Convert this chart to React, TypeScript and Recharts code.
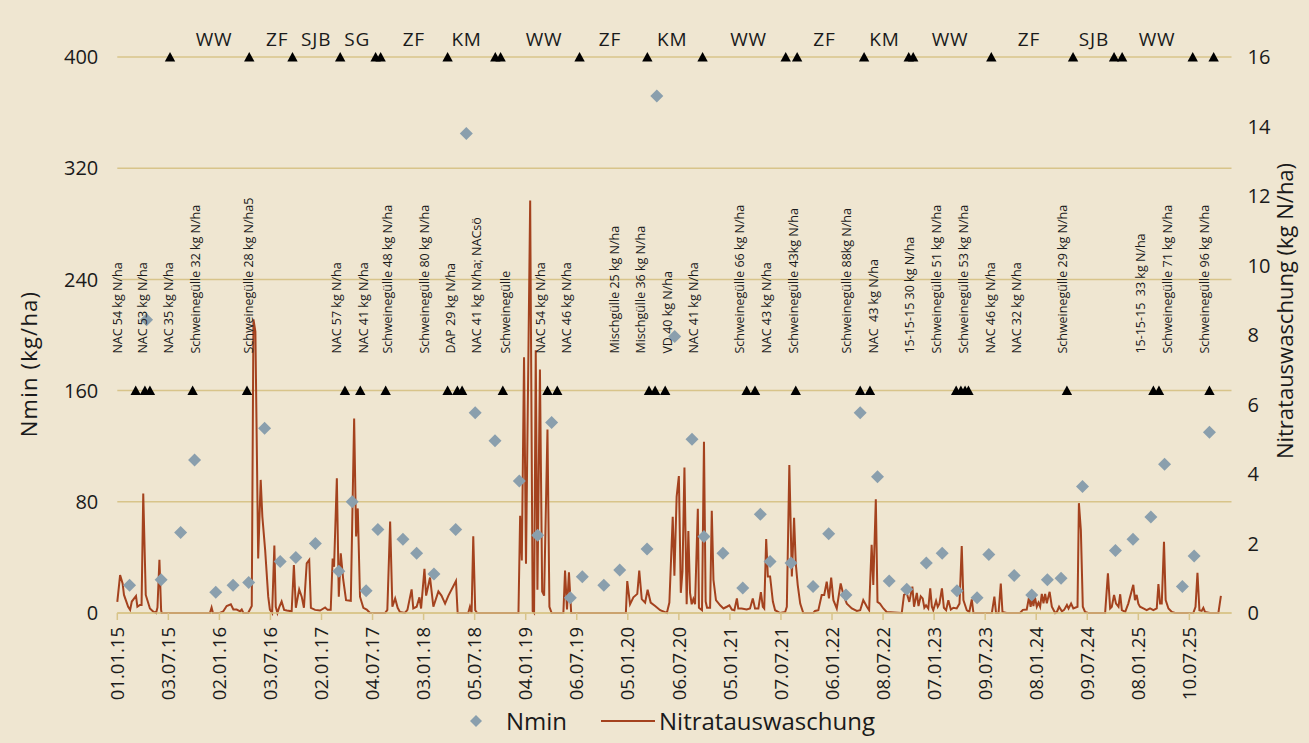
import React from 'react';
import { ComposedChart, Line, Scatter, XAxis, YAxis, CartesianGrid, Legend } from 'recharts';

// ---------- DATA (x = days since 01.01.2015) ----------
const tickLabels = [
  '01.01.15', '03.07.15', '02.01.16', '03.07.16', '02.01.17', '04.07.17', '03.01.18', '05.07.18',
  '04.01.19', '06.07.19', '05.01.20', '06.07.20', '05.01.21', '07.07.21', '06.01.22', '08.07.22',
  '07.01.23', '09.07.23', '08.01.24', '09.07.24', '08.01.25', '10.07.25',
];
const leftTicks = [0, 80, 160, 240, 320, 400];
const rightTicks = [0, 2, 4, 6, 8, 10, 12, 14, 16];

const nminDays = [
  44, 105, 157, 227, 277, 353, 415, 471, 528, 584, 640, 710, 794, 842, 892, 934, 1024, 1073, 1135, 1213,
  1251, 1283, 1354, 1441, 1507, 1557, 1624, 1667, 1744, 1801, 1899, 1934, 1998, 2060, 2103, 2171, 2242,
  2305, 2340, 2415, 2494, 2550, 2612, 2663, 2725, 2767, 2830, 2900, 2957, 3010, 3082, 3124, 3215, 3278,
  3334, 3383, 3460, 3578, 3641, 3705, 3754, 3818, 3860, 3915,
];
const nminValues = [
  20, 211, 24, 58, 110, 15, 20, 22, 133, 37, 40, 50, 30, 80, 16, 60, 53, 43, 28, 60,
  345, 144, 124, 95, 56, 137, 11, 26, 20, 31, 46, 372, 199, 125, 55, 43, 18,
  71, 37, 36, 19, 57, 13, 144, 98, 23, 17, 36, 43, 16, 11, 42, 27, 13,
  24, 25, 91, 45, 53, 69, 107, 19, 41, 130,
];

const leachDays = [
  0, 10, 19, 24, 39, 46, 52, 67, 72, 81, 87, 93, 102, 117, 129, 139, 144, 151, 157, 159,
  332, 338, 343, 368, 380, 392, 407, 416, 428, 440, 446, 452, 469, 482, 488, 495, 505, 514, 520, 530,
  541, 547, 555, 563, 568, 574, 581, 589, 598, 608, 625, 633, 640, 652, 661, 669, 679, 688, 694, 709,
  727, 745, 754, 765, 772, 777, 787, 794, 801, 810, 820, 837, 849, 856, 862, 870, 882, 894, 906, 960,
  968, 978, 986, 996, 1005, 1013, 1031, 1040, 1055, 1061, 1073, 1083, 1089, 1101, 1107, 1121, 1133, 1151, 1162, 1175,
  1187, 1214, 1220, 1258, 1264, 1270, 1276, 1283, 1290, 1438, 1444, 1450, 1458, 1465, 1480, 1489, 1494, 1500, 1506, 1515,
  1523, 1530, 1542, 1549, 1557, 1599, 1605, 1612, 1619, 1627, 1823, 1828, 1838, 1850, 1864, 1871, 1880, 1892, 1901, 1912,
  1928, 1946, 1970, 1979, 1991, 1997, 2005, 2013, 2020, 2026, 2033, 2041, 2047, 2053, 2059, 2065, 2071, 2081, 2085, 2096,
  2103, 2109, 2114, 2125, 2131, 2137, 2146, 2161, 2173, 2185, 2194, 2203, 2212, 2221, 2226, 2238, 2256, 2268, 2278, 2286,
  2298, 2307, 2314, 2319, 2326, 2332, 2340, 2350, 2358, 2376, 2394, 2400, 2409, 2418, 2426, 2432, 2439, 2448, 2459, 2495,
  2501, 2513, 2525, 2534, 2543, 2551, 2559, 2567, 2579, 2593, 2603, 2615, 2633, 2651, 2663, 2674, 2687, 2695, 2704, 2710,
  2719, 2725, 2734, 2746, 2758, 2812, 2820, 2830, 2839, 2850, 2856, 2866, 2872, 2880, 2887, 2893, 2899, 2907, 2914, 2920,
  2925, 2935, 2941, 2947, 2956, 2963, 2971, 2979, 2988, 2997, 3009, 3019, 3027, 3033, 3045, 3054, 3063, 3069, 3135, 3144,
  3150, 3159, 3167, 3173, 3188, 3236, 3246, 3260, 3268, 3274, 3279, 3284, 3289, 3296, 3302, 3308, 3314, 3320, 3326, 3332,
  3337, 3342, 3350, 3362, 3368, 3376, 3386, 3394, 3404, 3410, 3419, 3427, 3442, 3447, 3454, 3461, 3469, 3480, 3541, 3551,
  3559, 3565, 3573, 3580, 3589, 3595, 3601, 3613, 3624, 3637, 3642, 3648, 3654, 3660, 3666, 3678, 3690, 3702, 3714, 3726,
  3732, 3738, 3744, 3752, 3758, 3768, 3780, 3792, 3857, 3865, 3872, 3879, 3887, 3893, 3899, 3917, 3947, 3956,
];
const leachValues = [
  0.32, 1.09, 0.85, 0.52, 0.18, 0.09, 0.33, 0.49, 0.18, 0.23, 0.23, 3.44, 0.52, 0.13, 0.04, 0, 0.16, 1.53, 0.09, 0,
  0, 0.16, 0, 0, 0.05, 0.2, 0.25, 0.1, 0.1, 0.05, 0.1, 0, 0, 0.2, 8.45, 8.1, 1.57, 3.83, 2.77, 1.81,
  0.47, 0.1, 0, 1.94, 0.18, 0, 0.18, 0.33, 0.09, 0.07, 0.05, 1.38, 0.15, 0.68, 0.47, 0.15, 1.43, 1.53, 0.15, 0.09,
  0.07, 0.16, 0.09, 0.09, 1.57, 1.33, 3.88, 0.47, 1.72, 0.95, 0.37, 0.35, 5.6, 2.2, 3.01, 0.47, 0.15, 0.1, 0, 0,
  0.09, 2.63, 0.18, 0.42, 0.15, 0.03, 0, 0.09, 0.68, 0.13, 0.18, 0.45, 0.13, 1.27, 0.5, 1.02, 0.18, 0.62, 0.5, 0.27,
  0.5, 0.92, 0, 0, 0.18, 0, 2.21, 0.08, 0, 0, 2.8, 1.51, 7.36, 1.42, 11.87, 0.05, 0, 7.56, 0.67, 7.01,
  0.62, 0.5, 5.28, 0.18, 0, 0, 1.22, 0.1, 1.17, 0, 0, 0.92, 0.25, 0.45, 0.55, 1.22, 0.4, 0.3, 0.67, 0.3,
  0.2, 0.08, 0, 0.3, 2.77, 1.07, 3.35, 3.94, 0.58, 1.2, 4.19, 0.25, 2.36, 0.58, 0.25, 0.4, 0.25, 3.0, 0.15, 0.08,
  4.93, 0.33, 0.15, 0.15, 2.94, 0.95, 0.37, 0.22, 0.13, 0.18, 0.22, 0.1, 0.08, 0.42, 0.13, 0.13, 0.1, 0.13, 0.42, 0.13,
  0.13, 0.6, 0.18, 0.13, 2.13, 1.05, 1.05, 0.33, 0.08, 0, 0.03, 0.18, 4.26, 1.05, 2.74, 1.43, 0.81, 0.27, 0, 0,
  0.06, 0.08, 0.52, 0.52, 0.9, 0.42, 1.02, 0.37, 0.13, 0.85, 0.52, 0.27, 0.13, 0.06, 0.08, 0.37, 0.18, 0.08, 1.96, 0.81,
  3.27, 0.32, 0.27, 0.13, 0.03, 0, 0.52, 0.57, 0.32, 0.76, 0.18, 0.58, 0.2, 0.48, 0.42, 0.15, 0.22, 0.13, 0.71, 0.18,
  0.08, 0.35, 0.18, 0.27, 0.71, 0.15, 0.08, 0.37, 0.1, 0.15, 0.13, 0.27, 1.93, 0.37, 0.08, 0.03, 0.39, 0, 0, 0.47,
  0, 0, 0.85, 0.03, 0, 0, 0.09, 0.1, 0.45, 0.18, 0.45, 0.2, 0.47, 0.18, 0.3, 0.18, 0.55, 0.28, 0.55, 0.28,
  0.45, 0.61, 0.18, 0, 0.03, 0.18, 0.05, 0.09, 0.23, 0.13, 0.27, 0.13, 0.18, 3.16, 2.39, 0.18, 0.03, 0, 0, 1.14,
  0.13, 0.18, 0.52, 0.27, 0.18, 0.54, 0.08, 0.03, 0.27, 0.66, 0.81, 0.37, 0.52, 0.27, 0.18, 0.13, 0.08, 0.13, 0.08, 0.13,
  0.83, 0.27, 0.27, 2.05, 0.37, 0.13, 0.03, 0, 0, 0.18, 1.16, 0.08, 0.06, 0.15, 0.03, 0, 0, 0.49,
];

// crop changes (triangles on the 400 line)
const cropChangeDays = [
  189, 473, 628, 799, 926, 944, 1184, 1355, 1374, 1657, 1900, 2098, 2396, 2437, 2677, 2837, 2853,
  3133, 3426, 3573, 3602, 3855, 3930,
];
const cropLabels = ['WW', 'ZF', 'SJB', 'SG', 'ZF', 'KM', 'WW', 'ZF', 'KM', 'WW', 'ZF', 'KM', 'WW', 'ZF', 'SJB', 'WW'];
const cropLabelDays = [347, 573, 713, 860, 1063, 1252, 1530, 1766, 1989, 2263, 2535, 2750, 2985, 3268, 3501, 3727];

// fertilisation events (triangles on the 160 line)
const fertDays = [
  66, 99, 117, 270, 465, 816, 871, 962, 1184, 1219, 1236, 1382, 1542, 1577, 1906, 1928, 1964, 2256,
  2286, 2432, 2663, 2698, 3007, 3024, 3039, 3051, 3404, 3714, 3734, 3915,
];
const fertLabels = [
  'NAC 54 kg N/ha', 'NAC 53 kg N/ha', 'NAC 35 kg N/ha', 'Schweinegülle 32 kg N/ha', 'Schweinegülle 28 kg N/ha5',
  'NAC 57 kg N/ha', 'NAC 41 kg N/ha', 'Schweinegülle 48 kg N/ha', 'Schweinegülle 80 kg N/ha', 'DAP 29 kg N/ha',
  'NAC 41 kg N/ha; NACsö', 'Schweinegülle', 'NAC 54 kg N/ha', 'NAC 46 kg N/ha', 'Mischgülle 25 kg N/ha',
  'Mischgülle 36 kg N/ha', 'VD 40 kg N/ha', 'NAC 41 kg N/ha', 'Schweinegülle 66 kg N/ha', 'NAC 43 kg N/ha',
  'Schweinegülle 43kg N/ha', 'Schweinegülle 88kg N/ha', 'NAC  43 kg N/ha', '15-15-15 30 kg N/ha',
  'Schweinegülle 51 kg N/ha', 'Schweinegülle 53 kg N/ha', 'NAC 46 kg N/ha', 'NAC 32 kg N/ha',
  'Schweinegülle 29 kg N/ha', '15-15-15  33 kg N/ha', 'Schweinegülle 71 kg N/ha', 'Schweinegülle 96 kg N/ha',
];
const fertLabelDays = [
  0, 91, 185, 281, 470, 787, 882, 968, 1100, 1193, 1288, 1392, 1518, 1611, 1781, 1876, 1973, 2067,
  2229, 2326, 2423, 2615, 2710, 2839, 2938, 3033, 3129, 3224, 3389, 3669, 3766, 3896,
];

// ---------- derived tables ----------
const START = Date.UTC(2015, 0, 1);
const toDay = (s: string) => {
  const [d, m, y] = s.split('.').map(Number);
  return Math.round((Date.UTC(2000 + y, m - 1, d) - START) / 86400000);
};
const tickDays = tickLabels.map(toDay);
const tickMap: Record<number, string> = {};
tickDays.forEach((d, i) => (tickMap[d] = tickLabels[i]));

const nminData = nminDays.map((day, i) => ({ day, nmin: nminValues[i] }));
const leachData = leachDays.map((day, i) => ({ day, leach: leachValues[i] }));
const cropChangeData = cropChangeDays.map((day) => ({ day, level: 400 }));
const cropLabelData = cropLabelDays.map((day, i) => ({ day, level: 400, label: cropLabels[i] }));
const fertData = fertDays.map((day) => ({ day, level: 160 }));
const fertLabelData = fertLabelDays.map((day, i) => ({ day, level: 160, label: fertLabels[i] }));

// ---------- style ----------
const FONT = '"Open Sans", "Noto Sans", sans-serif';
const BG = '#EFE6D1';
const GRID = '#D8C48A';
const LINE = '#A4421E';
const DIAMOND = '#8A9FAD';
const TEXT = '#1A1A1A';
const X_MAX = 3994;

const Diamond = (p: any) => {
  const { cx, cy } = p;
  if (cx == null || cy == null) return null;
  const r = 6.5;
  return <polygon points={`${cx},${cy - r} ${cx + r},${cy} ${cx},${cy + r} ${cx - r},${cy}`} fill={DIAMOND} />;
};
const Triangle = (p: any) => {
  const { cx, cy } = p;
  if (cx == null || cy == null) return null;
  return <polygon points={`${cx},${cy - 5} ${cx - 5.2},${cy + 4.5} ${cx + 5.2},${cy + 4.5}`} fill="#000" />;
};
const CropText = (p: any) => {
  const { cx, cy, payload } = p;
  if (cx == null || cy == null) return null;
  return (
    <text x={cx} y={cy - 11} textAnchor="middle" fontSize={19} fill={TEXT} fontFamily={FONT} letterSpacing={0.8}>
      {payload.label}
    </text>
  );
};
const FertText = (p: any) => {
  const { cx, cy, payload } = p;
  if (cx == null || cy == null) return null;
  const y = cy - 37;
  return (
    <text
      x={cx}
      y={y}
      dy="0.36em"
      transform={`rotate(-90 ${cx} ${y})`}
      fontSize={12.5}
      fill={TEXT}
      fontFamily={FONT}
      style={{ whiteSpace: 'pre' }}
    >
      {payload.label}
    </text>
  );
};
const XTick = (p: any) => {
  const { x, y, payload } = p;
  return (
    <text
      x={x}
      y={y}
      dy="0.36em"
      transform={`rotate(-90 ${x} ${y})`}
      textAnchor="end"
      fontSize={18.5}
      fill={TEXT}
      fontFamily={FONT}
    >
      {tickMap[payload.value]}
    </text>
  );
};
const LeftTitle = (p: any) => {
  const vb = p.viewBox || { x: 57, y: 57, width: 60, height: 556 };
  const x = vb.x - 28;
  const y = 364;
  return (
    <text x={x} y={y} dy="0.36em" transform={`rotate(-90 ${x} ${y})`} textAnchor="middle" fontSize={22} fill={TEXT} fontFamily={FONT} letterSpacing={1.2}>
      Nmin (kg/ha)
    </text>
  );
};
const RightTitle = (p: any) => {
  const vb = p.viewBox || { x: 1231.5, y: 57, width: 60, height: 556 };
  const x = vb.x + 54;
  const y = 311;
  return (
    <text x={x} y={y} dy="0.36em" transform={`rotate(-90 ${x} ${y})`} textAnchor="middle" fontSize={22} fill={TEXT} fontFamily={FONT}>
      Nitratauswaschung (kg N/ha)
    </text>
  );
};
const LegendContent = () => (
  <svg width={1309} height={40} style={{ display: 'block' }}>
    <polygon points="476,14 482,20 476,26 470,20" fill={DIAMOND} />
    <text x={506} y={20} dy="0.36em" fontSize={24} fill={TEXT} fontFamily={FONT}>
      Nmin
    </text>
    <line x1={601} x2={655} y1={20} y2={20} stroke={LINE} strokeWidth={2} />
    <text x={659} y={20} dy="0.36em" fontSize={24} fill={TEXT} fontFamily={FONT}>
      Nitratauswaschung
    </text>
  </svg>
);

export default function App() {
  return (
    <div style={{ position: 'absolute', left: 0, top: 0, width: 1309, height: 743, background: BG }}>
      <ComposedChart width={1309} height={743} margin={{ top: 57, right: 17.5, bottom: 40, left: 57.3 }}>
        <CartesianGrid yAxisId="left" horizontal vertical={false} stroke={GRID} strokeWidth={1.5} />
        <XAxis
          dataKey="day"
          type="number"
          domain={[0, X_MAX]}
          ticks={tickDays}
          interval={0}
          height={90}
          axisLine={{ stroke: GRID, strokeWidth: 1.5 }}
          tickLine={{ stroke: GRID, strokeWidth: 1.5 }}
          tickSize={7}
          tickMargin={7}
          tick={<XTick />}
        />
        <YAxis
          yAxisId="left"
          domain={[0, 400]}
          ticks={leftTicks}
          width={60}
          axisLine={false}
          tickLine={false}
          tickSize={6}
          tickMargin={13}
          tick={{ fontSize: 20, fill: TEXT, fontFamily: FONT }}
          label={<LeftTitle />}
        />
        <YAxis
          yAxisId="right"
          orientation="right"
          domain={[0, 16]}
          ticks={rightTicks}
          width={60}
          axisLine={false}
          tickLine={false}
          tickSize={6}
          tickMargin={10}
          tick={{ fontSize: 20, fill: TEXT, fontFamily: FONT }}
          label={<RightTitle />}
        />
        <Scatter yAxisId="left" data={nminData} dataKey="nmin" name="Nmin" shape={<Diamond />} isAnimationActive={false} />
        <Line
          yAxisId="right"
          data={leachData}
          dataKey="leach"
          name="Nitratauswaschung"
          type="linear"
          stroke={LINE}
          strokeWidth={2}
          dot={false}
          activeDot={false}
          isAnimationActive={false}
        />
        <Scatter yAxisId="left" data={cropChangeData} dataKey="level" shape={<Triangle />} isAnimationActive={false} legendType="none" />
        <Scatter yAxisId="left" data={fertData} dataKey="level" shape={<Triangle />} isAnimationActive={false} legendType="none" />
        <Scatter yAxisId="left" data={cropLabelData} dataKey="level" shape={<CropText />} isAnimationActive={false} legendType="none" />
        <Scatter yAxisId="left" data={fertLabelData} dataKey="level" shape={<FertText />} isAnimationActive={false} legendType="none" />
        <Legend
          layout="horizontal"
          verticalAlign="middle"
          align="center"
          content={<LegendContent />}
          wrapperStyle={{ position: 'absolute', left: 0, top: 701, width: 1309, height: 40 }}
        />
      </ComposedChart>
    </div>
  );
}
